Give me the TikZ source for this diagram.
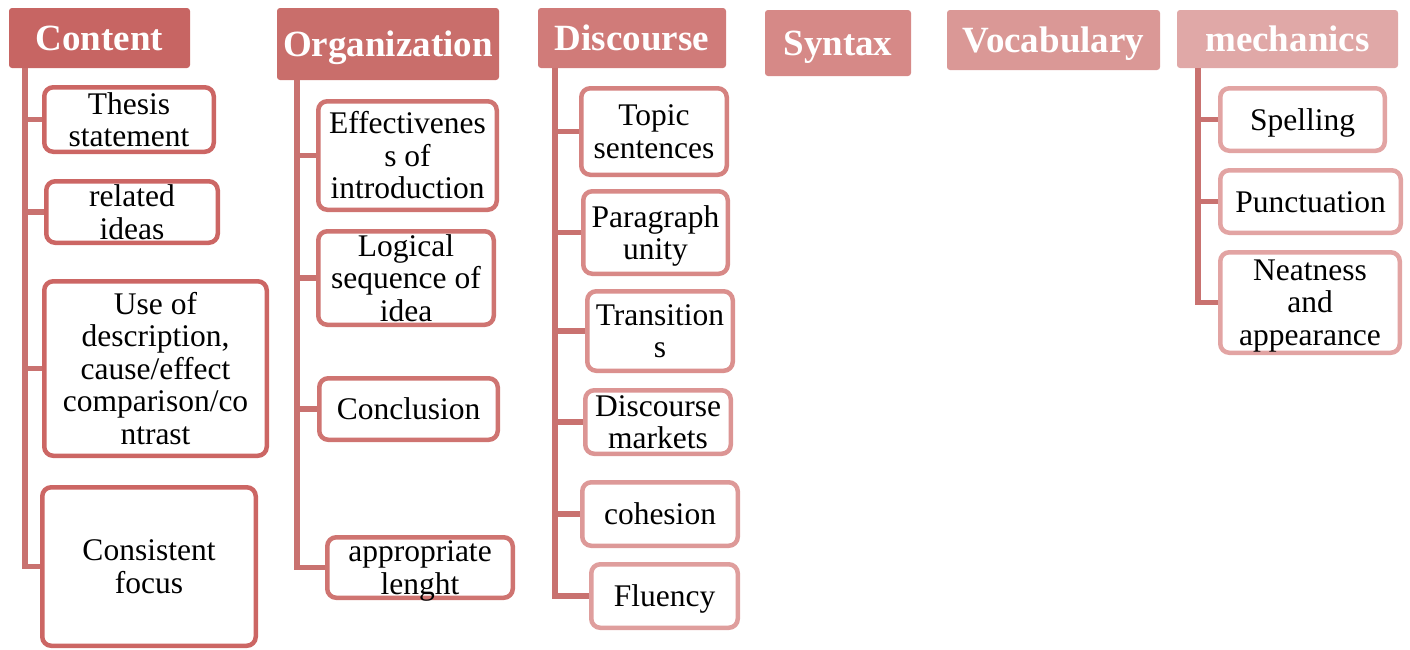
\documentclass[tikz,border=0pt]{standalone}
\usepackage{fontspec}
\setmainfont{Liberation Serif}
% keep the last line of a label from pushing the text upwards
\newcommand\nodepth[1]{\raisebox{0pt}[\height][0pt]{#1}}
\begin{document}
\definecolor{hContent}{HTML}{C76563}
\definecolor{hOrg}{HTML}{C96E6B}
\definecolor{hDisc}{HTML}{D07B79}
\definecolor{hSyn}{HTML}{D68987}
\definecolor{hVoc}{HTML}{DA9896}
\definecolor{hMech}{HTML}{E0A8A7}
\definecolor{bContent}{HTML}{CC6664}
\definecolor{bOrg}{HTML}{CF7471}
\definecolor{bDiscA}{HTML}{D58280}
\definecolor{bDiscB}{HTML}{D88987}
\definecolor{bDiscC}{HTML}{DB908E}
\definecolor{bDiscD}{HTML}{DC9594}
\definecolor{bDiscE}{HTML}{DD9998}
\definecolor{bDiscF}{HTML}{DF9E9D}
\definecolor{bMech}{HTML}{E2A4A3}
\definecolor{lineC}{HTML}{C97270}
\begin{tikzpicture}[x=1pt,y=-1pt,
  head/.style={rounded corners=3pt,inner sep=0pt,text=white,
    text height=24.5pt,text depth=0pt,
    font=\fontsize{37}{38}\selectfont\bfseries},
  kid/.style={draw,fill=white,line width=4.5pt,rounded corners=9pt,inner sep=0pt,
    align=center,font=\fontsize{31.5}{32.5}\selectfont},
  oneline/.style={text height=21pt,text depth=0pt},
  trunk/.style={draw=lineC,line width=5.5pt}]
\useasboundingbox (0,0) rectangle (1410,649);

% category headers
\node[head,fill=hContent,minimum width=181pt,minimum height=60pt] (hc) at (99.5,38) {Content};
\node[head,fill=hOrg,minimum width=222pt,minimum height=72pt] (ho) at (388,44) {Organization};
\node[head,fill=hDisc,minimum width=188pt,minimum height=60pt] (hd) at (632,38) {Discourse};
\node[head,fill=hSyn,minimum width=146pt,minimum height=66pt] (hs) at (838,43) {Syntax};
\node[head,fill=hVoc,minimum width=213pt,minimum height=60pt] (hv) at (1053.5,40) {Vocabulary};
\node[head,fill=hMech,minimum width=221pt,minimum height=58pt] (hm) at (1287.5,39) {mechanics};

% trunk positions
\coordinate (cx) at (25,0);
\coordinate (ox) at (297,0);
\coordinate (dx) at (555,0);
\coordinate (mx) at (1198,0);

% Content items
\node[kid,draw=bContent,minimum width=169.5pt,minimum height=64.5pt] (c1) at (129,119.5) {Thesis\\statement};
\node[kid,draw=bContent,minimum width=171.5pt,minimum height=61.5pt] (c2) at (132,212) {related\\ideas};
\node[kid,draw=bContent,minimum width=222.5pt,minimum height=174.5pt] (c3) at (155.5,368.5) {Use of\\description,\\cause/effect\\comparison/co\\ntrast};
\node[kid,draw=bContent,minimum width=213.5pt,minimum height=158.5pt] (c4) at (149,566.5) {Consistent\\focus};

% Organization items
\node[kid,draw=bOrg,minimum width=178.5pt,minimum height=108.5pt] (o1) at (407.5,155.5) {Effectivenes\\s of\\introduction};
\node[kid,draw=bOrg,minimum width=175.5pt,minimum height=93.5pt] (o2) at (406,278) {Logical\\sequence of\\idea};
\node[kid,oneline,draw=bOrg,minimum width=178.5pt,minimum height=61.5pt] (o3) at (408.5,409) {Conclusion};
\node[kid,draw=bOrg,minimum width=185.5pt,minimum height=60.5pt] (o4) at (420,567.5) {appropriate\\\nodepth{lenght}};

% Discourse items
\node[kid,draw=bDiscA,minimum width=145.5pt,minimum height=86.5pt] (d1) at (654,131.5) {Topic\\sentences};
\node[kid,draw=bDiscB,minimum width=144.5pt,minimum height=82.5pt] (d2) at (655.5,232.5) {Paragraph\\\nodepth{unity}};
\node[kid,draw=bDiscC,minimum width=145.5pt,minimum height=79.5pt] (d3) at (660,331) {Transition\\s};
\node[kid,draw=bDiscD,minimum width=145.5pt,minimum height=63.5pt] (d4) at (658,422) {Discourse\\markets};
\node[kid,oneline,draw=bDiscE,minimum width=155.5pt,minimum height=63.5pt] (d5) at (660,514) {cohesion};
\node[kid,oneline,draw=bDiscF,minimum width=146.5pt,minimum height=63.5pt] (d6) at (664.5,596) {Fluency};

% mechanics items
\node[kid,oneline,draw=bMech,minimum width=164.5pt,minimum height=62.5pt] (m1) at (1302.5,119.5) {Spelling};
\node[kid,oneline,draw=bMech,minimum width=180.5pt,minimum height=62.5pt] (m2) at (1310.5,201.5) {Punctuation};
\node[kid,draw=bMech,minimum width=179.5pt,minimum height=100.5pt] (m3) at (1310,302.5) {Neatness\\and\\\nodepth{appearance}};

% connectors: vertical trunk from each header, one branch per item
\begin{scope}[on background layer/.try]
\draw[trunk] (hc.south -| cx) |- (c4.west);
\foreach \n in {c1,c2,c3} \draw[trunk] (cx |- \n.west) -- (\n.west);
\draw[trunk] (ho.south -| ox) |- (o4.west);
\foreach \n in {o1,o2,o3} \draw[trunk] (ox |- \n.west) -- (\n.west);
\draw[trunk] (hd.south -| dx) |- (d6.west);
\foreach \n in {d1,d2,d3,d4,d5} \draw[trunk] (dx |- \n.west) -- (\n.west);
\draw[trunk] (hm.south -| mx) |- (m3.west);
\foreach \n in {m1,m2} \draw[trunk] (mx |- \n.west) -- (\n.west);
\end{scope}
\end{tikzpicture}
\end{document}
